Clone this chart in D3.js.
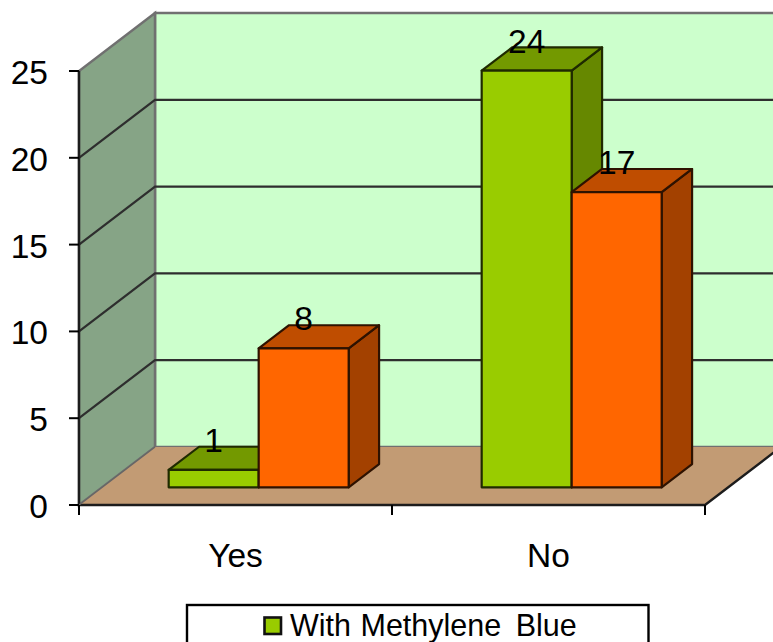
<!DOCTYPE html>
<html>
<head>
<meta charset="utf-8">
<style>
html, body { margin: 0; padding: 0; background: #fff; overflow: hidden; }
svg { display: block; }
text { font-family: "Liberation Sans", Arial, sans-serif; fill: #000; }
</style>
<script src="https://cdn.jsdelivr.net/npm/d3@7"></script>
</head>
<body>
<script>
// Chart values
const categories = ["Yes", "No"];
const seriesNames = ["With Methylene Blue", "Without Methylene Blue"];
const withBlue = [1, 24];
const withoutBlue = [8, 17];
const yTicks = [0, 5, 10, 15, 20, 25];

const W = 773, H = 642;
const svg = d3.select("body").append("svg").attr("width", W).attr("height", H);

// Scales for the front plane of the 3D box
const x = d3.scaleBand().domain(categories).range([79, 705]).paddingInner(0).paddingOuter(0);
const y = d3.scaleLinear().domain([0, 25]).range([505, 71]);

// Oblique projection: depth 0 is the front edge, depth 1 the back wall
const DX = 76, DY = -58;
const proj = (px, py, d) => [px + d * DX, py + d * DY];
const poly = pts => pts.map(p => p.join(",")).join(" ");

const x0 = x.range()[0], x1 = x.range()[1];
const y0 = y(0), yTop = y(25);

// Back wall
svg.append("polygon")
  .attr("points", poly([proj(x0, y0, 1), proj(x1, y0, 1), proj(x1, yTop, 1), proj(x0, yTop, 1)]))
  .attr("fill", "#CCFFCC").attr("stroke", "#707070").attr("stroke-width", 2.5);

// Side wall
svg.append("polygon")
  .attr("points", poly([[x0, y0], proj(x0, y0, 1), proj(x0, yTop, 1), [x0, yTop]]))
  .attr("fill", "#86A486").attr("stroke", "#707070").attr("stroke-width", 2.5);

// Floor
svg.append("polygon")
  .attr("points", poly([[x0, y0], [x1, y0], proj(x1, y0, 1), proj(x0, y0, 1)]))
  .attr("fill", "#C29B74");

// Gridlines along the side wall and the back wall
const gridTicks = yTicks.filter(t => t > 0 && t < 25);
svg.append("g").selectAll("polyline").data(gridTicks).join("polyline")
  .attr("points", t => poly([[x0, y(t)], proj(x0, y(t), 1), proj(x1, y(t), 1)]))
  .attr("fill", "none").attr("stroke", "#2e2e2e").attr("stroke-width", 2.2);

// Axis line, floor front edge and floor right edge
svg.append("path")
  .attr("d", d3.line()([[x0, yTop], [x0, y0], [x1, y0], proj(x1, y0, 1)]))
  .attr("fill", "none").attr("stroke", "#1c1c1c").attr("stroke-width", 2.4);
svg.append("path")
  .attr("d", d3.line()([proj(x0, y0, 1), [x0, y0]]))
  .attr("fill", "none").attr("stroke", "#666").attr("stroke-width", 1.5);

// Axis ticks and labels
svg.append("g").selectAll("line").data(yTicks).join("line")
  .attr("x1", x0 - 10).attr("x2", x0)
  .attr("y1", t => y(t)).attr("y2", t => y(t))
  .attr("stroke", "#000").attr("stroke-width", 2);
svg.append("g").selectAll("text").data(yTicks).join("text")
  .attr("x", 48).attr("y", t => y(t) + 13)
  .attr("text-anchor", "end").attr("font-size", 33.5)
  .text(t => t);

svg.append("g").selectAll("line")
  .data([x0, x0 + x.bandwidth(), x1]).join("line")
  .attr("x1", d => d).attr("x2", d => d)
  .attr("y1", y0).attr("y2", y0 + 10)
  .attr("stroke", "#000").attr("stroke-width", 2);
svg.append("g").selectAll("text").data(categories).join("text")
  .attr("x", c => x(c) + x.bandwidth() / 2)
  .attr("y", 567).attr("text-anchor", "middle").attr("font-size", 33.5)
  .text(c => c);

// Bars: each sits between two depths inside the box
const BAR_NEAR = 0.305, BAR_FAR = 0.705;
const BAR_W = 90;
const series = [
  { values: withBlue, offset: -BAR_W, front: "#99CC00", top: "#739900", side: "#668800", line: "#1f2a00" },
  { values: withoutBlue, offset: 0, front: "#FF6600", top: "#BF4D00", side: "#A34100", line: "#2e1200" }
];
const barsG = svg.append("g");
const labelsG = svg.append("g");
const centerOf = c => x(c) + x.bandwidth() / 2;

series.forEach(s => {
  categories.forEach((c, i) => {
    const v = s.values[i];
    const L = centerOf(c) + s.offset, R = L + BAR_W;
    const yV = y(v), yB = y(0);
    const a = (px, py) => proj(px, py, BAR_NEAR);
    const b = (px, py) => proj(px, py, BAR_FAR);
    const g = barsG.append("g")
      .attr("stroke", s.line).attr("stroke-width", 2.2).attr("stroke-linejoin", "round");
    g.append("polygon").attr("fill", s.side)
      .attr("points", poly([a(R, yB), b(R, yB), b(R, yV), a(R, yV)]));
    g.append("polygon").attr("fill", s.top)
      .attr("points", poly([a(L, yV), a(R, yV), b(R, yV), b(L, yV)]));
    g.append("polygon").attr("fill", s.front)
      .attr("points", poly([a(L, yB), a(R, yB), a(R, yV), a(L, yV)]));
    const lp = a((L + R) / 2, yV);
    labelsG.append("text")
      .attr("x", lp[0]).attr("y", lp[1] - 18)
      .attr("text-anchor", "middle").attr("font-size", 33.5)
      .text(v);
  });
});

// Legend box runs past the bottom edge of the page
svg.append("rect")
  .attr("x", 187).attr("y", 605).attr("width", 461.5).attr("height", 80)
  .attr("fill", "#fff").attr("stroke", "#000").attr("stroke-width", 2.4);
svg.append("rect")
  .attr("x", 264.5).attr("y", 617.5).attr("width", 16.5).attr("height", 16.5)
  .attr("fill", series[0].front).attr("stroke", "#111").attr("stroke-width", 2.6);

// Legend label, set word by word for its uneven spacing
const legendWords = seriesNames[0].split(" ");
const legendGaps = [0, 1, 6];
svg.append("text")
  .attr("x", 290).attr("y", 636).attr("font-size", 30.5)
  .selectAll("tspan").data(legendWords).join("tspan")
  .attr("dx", (d, i) => legendGaps[i])
  .text((d, i) => i < legendWords.length - 1 ? d + " " : d);
</script>
</body>
</html>
